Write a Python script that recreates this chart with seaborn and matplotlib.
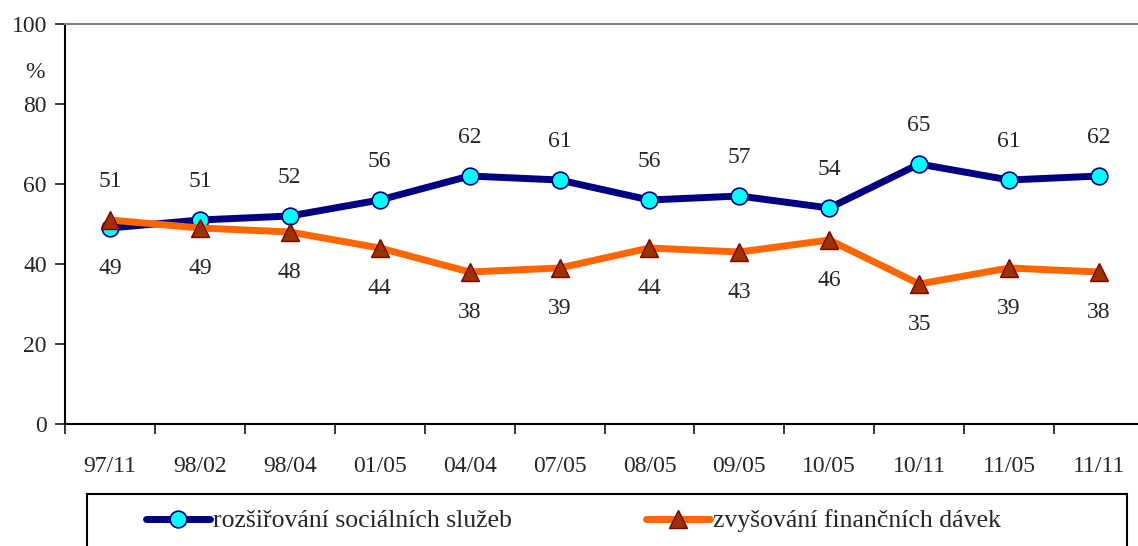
import numpy as np
import pandas as pd
import matplotlib
matplotlib.use("Agg")
import matplotlib.pyplot as plt
import seaborn as sns
from matplotlib.patches import Rectangle
from matplotlib.lines import Line2D

# --- data ---
periods = ["97/11", "98/02", "98/04", "01/05", "04/04", "07/05",
           "08/05", "09/05", "10/05", "10/11", "11/05", "11/11"]
services = [49, 51, 52, 56, 62, 61, 56, 57, 54, 65, 61, 62]
benefits = [51, 49, 48, 44, 38, 39, 44, 43, 46, 35, 39, 38]
label_services = "rozšiřování sociálních služeb"
label_benefits = "zvyšování finančních dávek"

sns.set_style("ticks")
plt.rcParams["font.family"] = ["Liberation Serif", "DejaVu Serif"]
FS = 17

df = pd.DataFrame({"pos": np.arange(len(periods)),
                   "services": services, "benefits": benefits})

fig = plt.figure(figsize=(11.38, 5.46), dpi=100)
ax = fig.add_axes([65 / 1138, 1 - 424 / 546, 1079 / 1138, 400 / 546])

navy = "#000080"
orange = "#FF6600"
svc_style = dict(color=navy, linewidth=5, marker="o", markersize=12,
                 markerfacecolor="#00FFFF", markeredgecolor=navy, markeredgewidth=1.2)
ben_style = dict(color=orange, linewidth=5, marker="^", markersize=13.5,
                 markerfacecolor="#993300", markeredgecolor="#800000", markeredgewidth=1.0)

sns.lineplot(data=df, x="pos", y="services", ax=ax, zorder=3, **svc_style)
sns.lineplot(data=df, x="pos", y="benefits", ax=ax, zorder=3, **ben_style)

# value labels: higher value above, lower value below
for i in range(len(periods)):
    hi, lo = max(services[i], benefits[i]), min(services[i], benefits[i])
    ax.annotate(str(hi), (i, hi), xytext=(0, 28), textcoords="offset points",
                ha="center", va="center", fontsize=FS)
    ax.annotate(str(lo), (i, lo), xytext=(0, -29), textcoords="offset points",
                ha="center", va="center", fontsize=FS)

ax.set_xlim(-0.5, len(periods) - 0.5)
ax.set_ylim(0, 100)
ax.set_yticks(range(0, 101, 20))
ax.set_xticks(range(len(periods)))
ax.set_xticklabels(periods)
ax.set_xticks(np.arange(-0.5, len(periods), 1.0), minor=True)
ax.tick_params(axis="x", which="major", length=0, pad=23, labelsize=FS)
ax.tick_params(axis="x", which="minor", length=7, width=1.3, direction="out")
ax.tick_params(axis="y", length=7, width=1.3, pad=6, labelsize=FS)
ax.set_xlabel("")
ax.set_ylabel("")

for side in ["left", "bottom"]:
    ax.spines[side].set_color("black")
    ax.spines[side].set_linewidth(1.5)
ax.spines["top"].set_visible(True)
ax.spines["top"].set_color("#808080")
ax.spines["top"].set_linewidth(1.5)
ax.spines["right"].set_visible(False)

fig.text(35 / 1138, 1 - 73 / 546, "%", ha="center", va="center", fontsize=FS)

# legend box, cut by the figure edge as in the reference
fig.patches.append(Rectangle((87 / 1138, -0.05), 1040 / 1138, 0.05 + (546 - 494) / 546,
                             transform=fig.transFigure, fill=False,
                             edgecolor="black", linewidth=1.5))
for style, label, x0 in [(svc_style, label_services, 146),
                         (ben_style, label_benefits, 646)]:
    fig.legend([Line2D([], [], **style)], [label], frameon=False,
               loc="center left", bbox_to_anchor=(x0 / 1138, 1 - 521 / 546),
               fontsize=18.5, handlelength=2.5, handletextpad=0.1,
               borderaxespad=0, borderpad=0)

fig.savefig("out.png", dpi=100)
